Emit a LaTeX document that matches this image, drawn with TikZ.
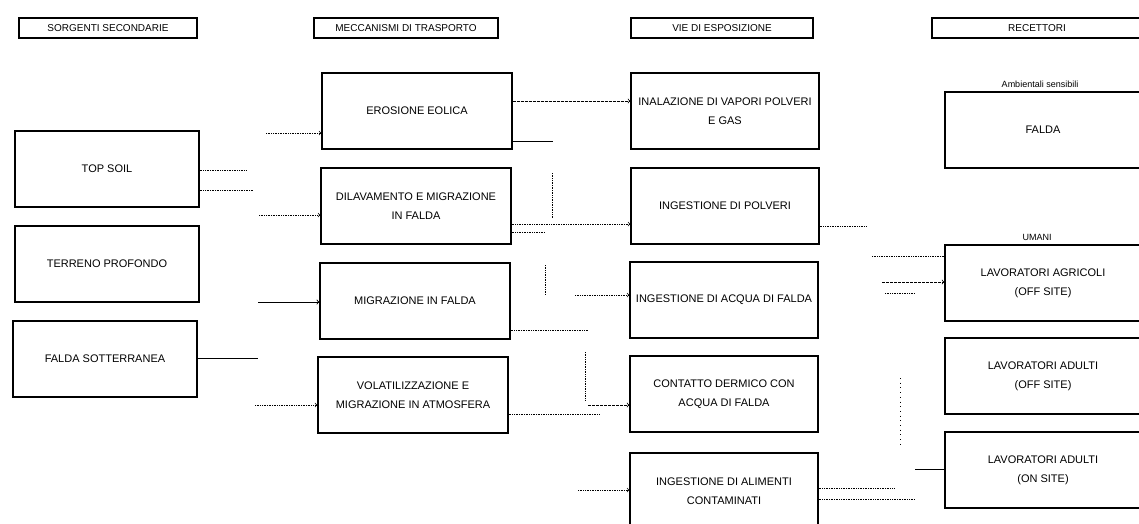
\documentclass[tikz,border=0pt]{standalone}
\usepackage{fontspec}
\setmainfont{Liberation Sans}
\tikzset{
  box/.style={draw, line width=1.4pt, inner sep=0pt, minimum height=76pt, align=center,
    font=\fontsize{11}{19}\selectfont},
  hdr/.style={draw, line width=1.2pt, inner sep=0pt, minimum height=20pt,
    font=\fontsize{10}{12}\selectfont},
  lbl/.style={font=\fontsize{9}{11}\selectfont},
  lnk/.style={densely dotted, line width=0.7pt},
  dsh/.style={dash pattern=on 3pt off 1pt, line width=0.8pt},
  sld/.style={line width=0.9pt}
}
\begin{document}
\begin{tikzpicture}[x=1pt, y=-1pt]
      \useasboundingbox (0,0) rectangle (1139,523);
      % headers
      \node[hdr, minimum width=178pt] (h1) at (108,28) {SORGENTI SECONDARIE};
      \node[hdr, minimum width=184pt] (h2) at (406,28) {MECCANISMI DI TRASPORTO};
      \node[hdr, minimum width=182pt] (h3) at (722,28) {VIE DI ESPOSIZIONE};
      \node[hdr, minimum width=210pt] (h4) at (1037,28) {RECETTORI};
      % sorgenti
      \node[box, minimum width=184pt] (topsoil) at (107,169) {TOP SOIL};
      \node[box, minimum width=184pt] (terreno) at (107,264) {TERRENO PROFONDO};
      \node[box, minimum width=184pt] (faldasot) at (105,359) {FALDA SOTTERRANEA};
      % meccanismi
      \node[box, minimum width=190pt] (erosione) at (417,111) {EROSIONE EOLICA};
      \node[box, minimum width=190pt] (dilav) at (416,206) {DILAVAMENTO E MIGRAZIONE\\IN FALDA};
      \node[box, minimum width=190pt] (migr) at (415,301) {MIGRAZIONE IN FALDA};
      \node[box, minimum width=190pt] (volat) at (413,395) {VOLATILIZZAZIONE E\\MIGRAZIONE IN ATMOSFERA};
      % vie di esposizione
      \node[box, minimum width=188pt] (inal) at (725,111) {INALAZIONE DI VAPORI POLVERI\\E GAS};
      \node[box, minimum width=188pt] (polv) at (725,206) {INGESTIONE DI POLVERI};
      \node[box, minimum width=188pt] (acqua) at (724,300) {INGESTIONE DI ACQUA DI FALDA};
      \node[box, minimum width=188pt] (derm) at (724,394) {CONTATTO DERMICO CON\\ACQUA DI FALDA};
      \node[box, minimum width=188pt] (alim) at (724,491) {INGESTIONE DI ALIMENTI\\CONTAMINATI};
      % recettori
      \node[lbl] (amb) at (1040,84) {Ambientali sensibili};
      \node[box, minimum width=196pt] (faldarec) at (1043,130) {FALDA};
      \node[lbl] (umani) at (1037,237) {UMANI};
      \node[box, minimum width=196pt] (agric) at (1043,283) {LAVORATORI AGRICOLI\\(OFF SITE)};
      \node[box, minimum width=196pt] (adoff) at (1043,376) {LAVORATORI ADULTI\\(OFF SITE)};
      \node[box, minimum width=196pt] (adon) at (1043,470) {LAVORATORI ADULTI\\(ON SITE)};
      % sorgenti -> meccanismi
      \coordinate (ts1) at (246,170);
      \coordinate (ts2) at (254,190);
      \draw[lnk] (topsoil.east |- ts1) -- (ts1);
      \draw[lnk] (topsoil.east |- ts2) -- (ts2);
      \coordinate (er0) at (266,133);
      \draw[lnk,->] (er0) -- (erosione.west |- er0);
      \coordinate (dl0) at (259,215);
      \draw[lnk,->] (dl0) -- (dilav.west |- dl0);
      \coordinate (mg0) at (258,302);
      \draw[sld,->] (mg0) -- (migr.west |- mg0);
      \coordinate (fs1) at (258,358);
      \draw[sld] (faldasot.east |- fs1) -- (fs1);
      \coordinate (vo0) at (255,405);
      \draw[lnk,->] (vo0) -- (volat.west |- vo0);
      % meccanismi -> vie di esposizione
      \coordinate (in1) at (0,101);
      \draw[dsh,->] (erosione.east |- in1) -- (inal.west |- in1);
      \coordinate (er1) at (553,141);
      \draw[sld] (erosione.east |- er1) -- (er1);
      \coordinate (v1a) at (552,173);
      \coordinate (v1b) at (552,218);
      \draw[lnk] (v1a) -- (v1b);
      \coordinate (po1) at (0,224);
      \draw[lnk,->] (dilav.east |- po1) -- (polv.west |- po1);
      \coordinate (dl1) at (545,232);
      \draw[lnk] (dilav.east |- dl1) -- (dl1);
      \coordinate (v2a) at (545,265);
      \coordinate (v2b) at (545,295);
      \draw[lnk] (v2a) -- (v2b);
      \coordinate (aq0) at (575,295);
      \draw[lnk,->] (aq0) -- (acqua.west |- aq0);
      \coordinate (mg1) at (588,330);
      \draw[lnk] (migr.east |- mg1) -- (mg1);
      \coordinate (v3a) at (585,352);
      \coordinate (v3b) at (585,400);
      \draw[lnk] (v3a) -- (v3b);
      \coordinate (de0) at (588,405);
      \draw[dsh,->] (de0) -- (derm.west |- de0);
      \coordinate (vo1) at (600,414);
      \draw[lnk] (volat.east |- vo1) -- (vo1);
      \coordinate (al0) at (578,490);
      \draw[lnk,->] (al0) -- (alim.west |- al0);
      % vie di esposizione -> recettori
      \coordinate (po2) at (866,226);
      \draw[lnk] (polv.east |- po2) -- (po2);
      \coordinate (ag1) at (872,256);
      \draw[lnk] (ag1) -- (agric.west |- ag1);
      \coordinate (ag0) at (882,282);
      \draw[dsh,->] (ag0) -- (agric.west |- ag0);
      \coordinate (ag2) at (885,293);
      \coordinate (ag3) at (915,293);
      \draw[lnk] (ag2) -- (ag3);
      \coordinate (v4a) at (900,378);
      \coordinate (v4b) at (900,445);
      \draw[loosely dotted, line width=0.7pt] (v4a) -- (v4b);
      \coordinate (al1) at (895,488);
      \draw[lnk] (alim.east |- al1) -- (al1);
      \coordinate (al2) at (915,499);
      \draw[lnk] (alim.east |- al2) -- (al2);
      \coordinate (on0) at (915,469);
      \draw[sld] (on0) -- (adon.west |- on0);
\end{tikzpicture}
\end{document}
